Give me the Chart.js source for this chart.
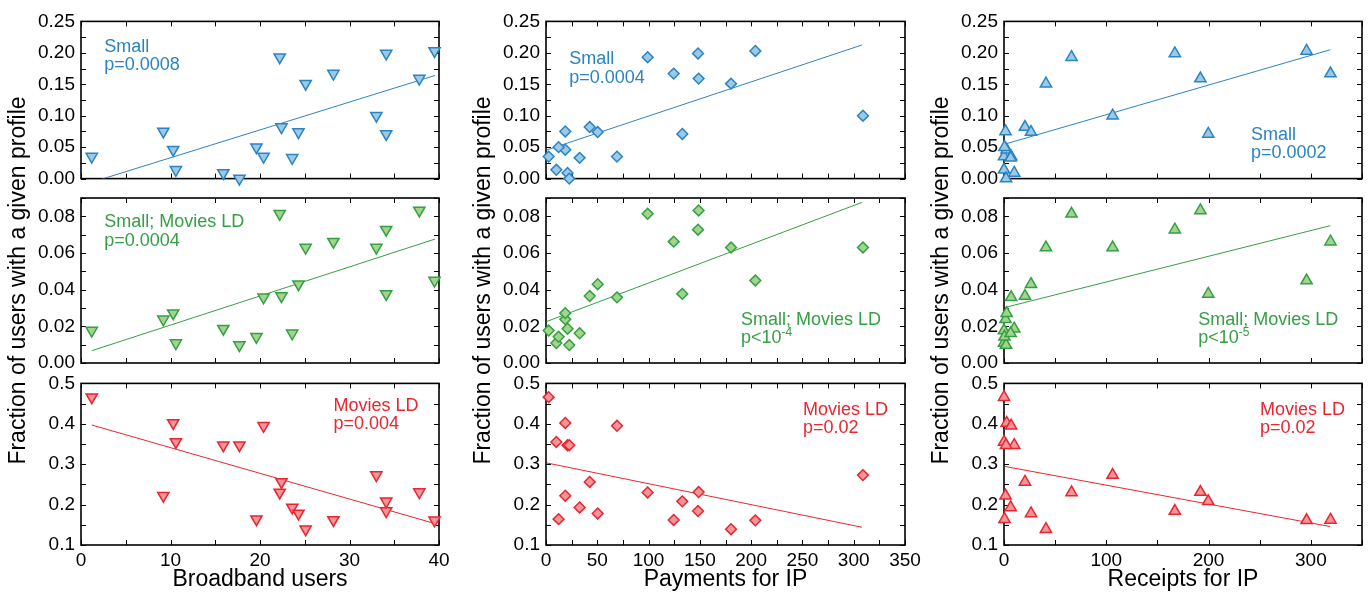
<!DOCTYPE html>
<html>
<head>
<meta charset="utf-8">
<script src="https://cdn.jsdelivr.net/npm/chart.js@4.4.1/dist/chart.umd.min.js"></script>
<style>
  body { margin: 0; background: #fff; width: 1372px; height: 597px; position: relative; overflow: hidden; }
  canvas { position: absolute; }
</style>
</head>
<body>
<script>
// one entry per country, same order in every array
const broadbandUsers = [1.2, 9.2, 10.3, 10.6, 15.9, 17.7, 19.6, 20.4, 22.2, 22.4, 23.6, 24.3, 25.1, 28.2, 33.0, 34.1, 34.1, 37.8, 39.5]
const paymentsForIP = [2.6, 18.8, 18.8, 10.1, 21.0, 22.7, 12.3, 69.2, 99.1, 42.6, 32.8, 50.4, 180.4, 124.5, 309, 148.2, 132.9, 148.8, 204.1]
const receiptsForIP = [0, 1.5, 2.6, 0, 10, 2, 0.5, 7, 66, 20.5, 6.5, 26.4, 41, 319.2, 106.2, 167, 199.7, 192, 295.8]

// fraction of users with each profile
const small = [0.035, 0.075, 0.046, 0.014, 0.009, 0.000, 0.050, 0.035, 0.193, 0.082, 0.033, 0.074, 0.151, 0.167, 0.100, 0.199, 0.071, 0.159, 0.203]
const smallMoviesLD = [0.0177, 0.0238, 0.0272, 0.0109, 0.0187, 0.0098, 0.0143, 0.0358, 0.0814, 0.0365, 0.0162, 0.0430, 0.0630, 0.0662, 0.0630, 0.0727, 0.0377, 0.0832, 0.0450]
const moviesLD = [0.466, 0.222, 0.402, 0.355, 0.347, 0.347, 0.164, 0.395, 0.230, 0.256, 0.193, 0.178, 0.139, 0.162, 0.273, 0.184, 0.208, 0.231, 0.161]

// regression lines: x range per column, [start, end] fractions per column
const broadbandFitX = [1.2, 39.55]
const paymentsFitX = [1, 308]
const receiptsFitX = [1, 319]
const smallFit = [[-0.0058, 0.164], [0.0457, 0.2125], [0.0549, 0.2049]]
const smallMoviesLDFit = [[0.0067, 0.0676], [0.0227, 0.0876], [0.0303, 0.0749]]
const moviesLDFit = [[0.397, 0.153], [0.303, 0.144], [0.2944, 0.1456]]

// significance per column
const smallP = ['p=0.0008', 'p=0.0004', 'p=0.0002']
const smallMoviesLDP = ['p=0.0004', 'p<10^-4', 'p<10^-5']
const moviesLDP = ['p=0.004', 'p=0.02', 'p=0.02']

const FONT = '"Liberation Sans", Arial, Helvetica, sans-serif'
const PAGE_H = 597

const columns = [
  { title: 'Broadband users', x: broadbandUsers, fitX: broadbandFitX, max: 40, step: 5, labelStep: 10,
    pointStyle: 'triangle', rotation: 180, radius: 6.5, left: 81, right: 439 },
  { title: 'Payments for IP', x: paymentsForIP, fitX: paymentsFitX, max: 350, step: 25, labelStep: 50,
    pointStyle: 'rectRot', rotation: 0, radius: 5.4, left: 546, right: 905 },
  { title: 'Receipts for IP', x: receiptsForIP, fitX: receiptsFitX, max: 350, step: 50, labelStep: 100,
    pointStyle: 'triangle', rotation: 0, radius: 6.5, left: 1004, right: 1362 }
]

const rows = [
  { name: 'Small', y: small, fit: smallFit, p: smallP, min: 0, max: 0.25, step: 0.025, labelStep: 0.05, digits: 2,
    stroke: '#2a84c2', fill: '#9ccae6', top: 18, bottom: 182,
    notes: [[2.6, 0.202], [22.7, 0.182], [241.4, 0.062]] },
  { name: 'Small; Movies LD', y: smallMoviesLD, fit: smallMoviesLDFit, p: smallMoviesLDP, min: 0, max: 0.09, step: 0.01, labelStep: 0.02, digits: 2,
    stroke: '#34a043', fill: '#a3d48e', top: 198, bottom: 363,
    notes: [[2.6, 0.074], [190, 0.0209], [189.9, 0.0209]] },
  { name: 'Movies LD', y: moviesLD, fit: moviesLDFit, p: moviesLDP, min: 0.1, max: 0.5, step: 0.05, labelStep: 0.1, digits: 1,
    stroke: '#e8262f', fill: '#f1959a', top: 380, bottom: 545,
    notes: [[28.2, 0.432], [250.6, 0.423], [250.2, 0.423]] }
]

// the shared y title sits on the middle row's axis
const TITLE_ROW = 1

const isMultiple = (v, step) => Math.abs(v / step - Math.round(v / step)) < 1e-6

// inward tick marks on all four sides plus the black frame
const frameTicks = {
  id: 'frameTicks',
  beforeDatasetsDraw(chart) {
    const { ctx, chartArea: a, scales } = chart
    const len = 5
    ctx.save()
    ctx.strokeStyle = '#000'
    ctx.lineWidth = 1
    ctx.beginPath()
    scales.x.ticks.forEach(t => {
      const px = Math.round(scales.x.getPixelForValue(t.value)) + 0.5
      ctx.moveTo(px, a.bottom); ctx.lineTo(px, a.bottom - len)
      ctx.moveTo(px, a.top); ctx.lineTo(px, a.top + len)
    })
    scales.y.ticks.forEach(t => {
      const py = Math.round(scales.y.getPixelForValue(t.value)) + 0.5
      ctx.moveTo(a.left, py); ctx.lineTo(a.left + len, py)
      ctx.moveTo(a.right, py); ctx.lineTo(a.right - len, py)
    })
    ctx.stroke()
    ctx.lineWidth = 1.6
    ctx.strokeRect(a.left, a.top, a.right - a.left, a.bottom - a.top)
    ctx.restore()
  }
}

// profile name and p-value written inside the panel
const panelNote = {
  id: 'panelNote',
  afterDraw(chart, args, opts) {
    const { ctx, scales } = chart
    const x = scales.x.getPixelForValue(opts.at[0])
    let y = scales.y.getPixelForValue(opts.at[1])
    ctx.save()
    ctx.fillStyle = opts.color
    ctx.textAlign = 'left'
    ctx.textBaseline = 'alphabetic'
    opts.lines.forEach(text => {
      const [base, sup] = text.split('^')
      ctx.font = `18px ${FONT}`
      ctx.fillText(base, x, y)
      if (sup) {
        const w = ctx.measureText(base).width
        ctx.font = `12px ${FONT}`
        ctx.fillText(sup, x + w, y - 7)
      }
      y += 18.5
    })
    ctx.restore()
  }
}

const Y_AXIS_W = 76
const PAD_RIGHT = 22
const X_AXIS_H = 50

rows.forEach((row, r) => {
  columns.forEach((col, c) => {
    const bottomRow = r === rows.length - 1
    const xAxisH = bottomRow ? X_AXIS_H : 0
    // the title row gets a full-height canvas so the long y title fits
    const canvasTop = r === TITLE_ROW ? 0 : row.top - 14
    const canvasBottom = r === TITLE_ROW ? PAGE_H : row.bottom + xAxisH + (bottomRow ? 0 : 14)
    const padTop = row.top - canvasTop
    const padBottom = canvasBottom - row.bottom - xAxisH

    const canvas = document.createElement('canvas')
    canvas.width = col.right - col.left + Y_AXIS_W + PAD_RIGHT
    canvas.height = canvasBottom - canvasTop
    canvas.style.left = (col.left - Y_AXIS_W) + 'px'
    canvas.style.top = canvasTop + 'px'
    document.body.appendChild(canvas)

    const points = col.x.map((x, i) => ({ x, y: row.y[i] }))
    const fitLine = col.fitX.map((x, i) => ({ x, y: row.fit[c][i] }))

    new Chart(canvas, {
      type: 'scatter',
      data: {
        datasets: [{
          label: row.name,
          data: points,
          pointStyle: col.pointStyle,
          rotation: col.rotation,
          pointRadius: col.radius,
          pointBorderWidth: 1.5,
          pointBorderColor: row.stroke,
          pointBackgroundColor: row.fill,
          clip: false
        }, {
          label: row.name + ' fit',
          data: fitLine,
          showLine: true,
          borderColor: row.stroke,
          borderWidth: 1,
          pointRadius: 0,
          clip: 0
        }]
      },
      options: {
        responsive: false,
        animation: false,
        events: [],
        layout: { padding: { left: 0, top: padTop, right: PAD_RIGHT, bottom: padBottom } },
        plugins: {
          legend: { display: false },
          tooltip: { enabled: false },
          panelNote: { at: row.notes[c], lines: [row.name, row.p[c]], color: row.stroke }
        },
        scales: {
          x: {
            type: 'linear',
            min: 0,
            max: col.max,
            grid: { display: false, drawTicks: false, tickLength: 0 },
            border: { display: false },
            afterFit: scale => { scale.height = xAxisH },
            ticks: {
              display: bottomRow,
              stepSize: col.step,
              autoSkip: false,
              maxRotation: 0,
              padding: 4,
              color: '#000',
              font: { family: FONT, size: 19 },
              callback: v => isMultiple(v, col.labelStep) ? String(v) : ''
            },
            title: {
              display: bottomRow,
              text: col.title,
              color: '#000',
              font: { family: FONT, size: 23 },
              padding: { top: 0, bottom: 2 }
            }
          },
          y: {
            type: 'linear',
            min: row.min,
            max: row.max,
            grid: { display: false, drawTicks: false, tickLength: 0 },
            border: { display: false },
            afterFit: scale => { scale.width = Y_AXIS_W },
            ticks: {
              stepSize: row.step,
              autoSkip: false,
              padding: 6,
              color: '#000',
              font: { family: FONT, size: 19 },
              callback: v => isMultiple(v, row.labelStep) ? v.toFixed(row.digits) : ''
            },
            title: {
              display: r === TITLE_ROW,
              text: 'Fraction of users with a given profile',
              color: '#000',
              font: { family: FONT, size: 23 },
              padding: 0
            }
          }
        }
      },
      plugins: [frameTicks, panelNote]
    })
  })
})
</script>
</body>
</html>
